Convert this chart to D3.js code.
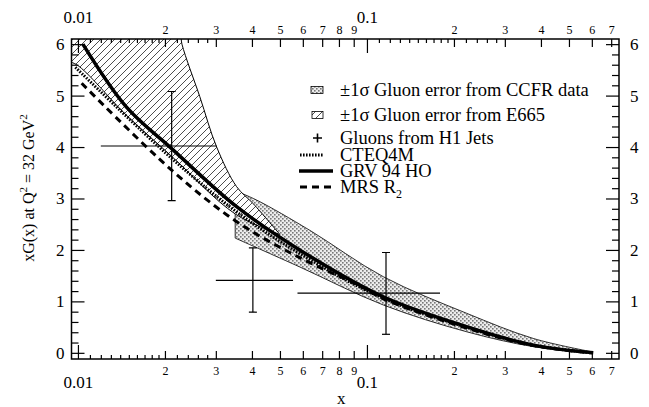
<!DOCTYPE html>
<html>
<head>
<meta charset="utf-8">
<script src="https://cdn.jsdelivr.net/npm/d3@7"></script>
<style>
  body { margin: 0; background: #fff; }
  svg { font-family: "Liberation Serif", "DejaVu Serif", serif; }
</style>
</head>
<body>
<div id="chart"></div>
<script>
// curves, [x, xG(x)]
var grv = [[0.0104, 6.0], [0.0147, 4.78], [0.0211, 3.97], [0.0354, 2.84], [0.0585, 2.0],
           [0.1139, 1.09], [0.221, 0.51], [0.376, 0.15], [0.607, 0.0]];
var cteq = [[0.0098, 5.55], [0.0211, 3.78], [0.0354, 2.74], [0.0585, 1.93], [0.1139, 1.06],
            [0.221, 0.5], [0.376, 0.15], [0.6, 0.0]];
var mrs = [[0.0103, 5.24], [0.0211, 3.55], [0.0354, 2.55], [0.0585, 1.85], [0.093, 1.32],
           [0.1139, 1.05], [0.221, 0.48], [0.376, 0.14], [0.6, 0.0]];

// CCFR +-1 sigma band
var ccfrUpper = [[0.035, 3.15], [0.0415, 2.97], [0.0635, 2.38], [0.1139, 1.48], [0.221, 0.77],
                 [0.376, 0.28], [0.6, 0.02]];
var ccfrLower = [[0.035, 2.23], [0.0585, 1.67], [0.1139, 0.93], [0.221, 0.41], [0.376, 0.12],
                 [0.6, 0.0]];

// E665 +-1 sigma band
var e665Upper = [[0.009, 6.4], [0.0222, 6.4], [0.0229, 6.0], [0.0264, 4.98], [0.0302, 4.0],
                 [0.0354, 3.23], [0.0404, 2.9], [0.05, 2.3]];
var e665Lower = [[0.009, 5.68], [0.0099, 5.6], [0.0147, 4.62], [0.0211, 3.82], [0.035, 2.7],
                 [0.05, 2.3]];

// H1 jet points
var h1 = [
  {x: 0.0211, y: 4.02, xlo: 0.0120, xhi: 0.0302, ylo: 2.96, yhi: 5.08},
  {x: 0.0403, y: 1.41, xlo: 0.0300, xhi: 0.0555, ylo: 0.79, yhi: 2.04},
  {x: 0.1164, y: 1.16, xlo: 0.0575, xhi: 0.179, ylo: 0.36, yhi: 1.95}
];

// ticks
var xMajor = [0.01, 0.1];
var xMajorLabels = ["0.01", "0.1"];
var xDigits = [0.02, 0.03, 0.04, 0.05, 0.06, 0.07, 0.08, 0.09, 0.2, 0.3, 0.4, 0.5, 0.6, 0.7];
var xSmall = [0.011, 0.012, 0.013, 0.014, 0.015, 0.016, 0.017, 0.018, 0.019, 0.022, 0.024, 0.026, 0.028,
              0.11, 0.12, 0.13, 0.14, 0.15, 0.16, 0.17, 0.18, 0.19, 0.22, 0.24, 0.26, 0.28];
var yMajor = [0, 1, 2, 3, 4, 5, 6];
var yMinor = [0.2, 0.4, 0.6, 0.8, 1.2, 1.4, 1.6, 1.8, 2.2, 2.4, 2.6, 2.8, 3.2, 3.4, 3.6, 3.8,
              4.2, 4.4, 4.6, 4.8, 5.2, 5.4, 5.6, 5.8];

var legendLabels = ["\u00b11\u03c3 Gluon error from CCFR data", "\u00b11\u03c3 Gluon error from E665",
                    "Gluons from H1 Jets", "CTEQ4M", "GRV 94 HO", "MRS R"];

var W = 649, H = 407;
var L = 71.5, R = 619, T = 39, B = 359;

var svg = d3.select("#chart").append("svg")
    .attr("width", W).attr("height", H);

var x = d3.scaleLog().domain([0.0095, 0.745]).range([L, R]);
var y = d3.scaleLinear().domain([-0.12, 6.1]).range([B, T]);

var defs = svg.append("defs");
defs.append("clipPath").attr("id", "clip")
  .append("rect").attr("x", L).attr("y", T).attr("width", R - L).attr("height", B - T);

var hatch = defs.append("pattern").attr("id", "hatch")
    .attr("patternUnits", "userSpaceOnUse").attr("width", 7).attr("height", 7);
hatch.append("rect").attr("width", 7).attr("height", 7).attr("fill", "#fff");
hatch.append("path").attr("d", "M0,7 L7,0 M-1,1 L1,-1 M6,8 L8,6")
    .attr("stroke", "#000").attr("stroke-width", 0.7);

var stip = defs.append("pattern").attr("id", "stip")
    .attr("patternUnits", "userSpaceOnUse").attr("width", 4).attr("height", 4);
stip.append("rect").attr("width", 4).attr("height", 4).attr("fill", "#ececec");
stip.append("rect").attr("x", 0).attr("y", 0).attr("width", 1.6).attr("height", 1.6).attr("fill", "#777");
stip.append("rect").attr("x", 2).attr("y", 2).attr("width", 1.6).attr("height", 1.6).attr("fill", "#777");

var line = d3.line()
    .x(function(d) { return x(d[0]); })
    .y(function(d) { return y(d[1]); })
    .curve(d3.curveCatmullRom.alpha(0.5));

function band(up, lo) {
  var a = line(up);
  var b = line(lo.slice().reverse());
  return a + "L" + b.slice(1) + "Z";
}

var plot = svg.append("g").attr("clip-path", "url(#clip)");

plot.append("path").attr("d", band(ccfrUpper, ccfrLower))
    .attr("fill", "url(#stip)").attr("stroke", "#000").attr("stroke-width", 0.8);

plot.append("path").attr("d", band(e665Upper, e665Lower))
    .attr("fill", "url(#hatch)").attr("stroke", "#000").attr("stroke-width", 1);

plot.append("path").attr("d", line(mrs))
    .attr("fill", "none").attr("stroke", "#000").attr("stroke-width", 3).attr("stroke-dasharray", "7,5");
plot.append("path").attr("d", line(cteq))
    .attr("fill", "none").attr("stroke", "#000").attr("stroke-width", 3).attr("stroke-dasharray", "1.6,1.4");
plot.append("path").attr("d", line(grv))
    .attr("fill", "none").attr("stroke", "#000").attr("stroke-width", 3.5);

// H1 crosses
var pts = plot.append("g").attr("stroke", "#000").attr("stroke-width", 1.2);
pts.selectAll(".hbar").data(h1).enter().append("line")
    .attr("x1", function(d) { return x(d.xlo); }).attr("x2", function(d) { return x(d.xhi); })
    .attr("y1", function(d) { return y(d.y); }).attr("y2", function(d) { return y(d.y); });
pts.selectAll(".vbar").data(h1).enter().append("line")
    .attr("x1", function(d) { return x(d.x); }).attr("x2", function(d) { return x(d.x); })
    .attr("y1", function(d) { return y(d.ylo); }).attr("y2", function(d) { return y(d.yhi); });
pts.selectAll(".capt").data(h1).enter().append("line")
    .attr("x1", function(d) { return x(d.x) - 4; }).attr("x2", function(d) { return x(d.x) + 4; })
    .attr("y1", function(d) { return y(d.yhi); }).attr("y2", function(d) { return y(d.yhi); });
pts.selectAll(".capb").data(h1).enter().append("line")
    .attr("x1", function(d) { return x(d.x) - 4; }).attr("x2", function(d) { return x(d.x) + 4; })
    .attr("y1", function(d) { return y(d.ylo); }).attr("y2", function(d) { return y(d.ylo); });

// axes, ticks inward
function styleAxis(g, fs) {
  g.select(".domain").remove();
  g.selectAll("line").attr("stroke", "#000").attr("stroke-width", 1.2);
  g.selectAll("text").attr("font-size", fs).attr("fill", "#000")
      .attr("font-family", "Liberation Serif, serif");
}

[["bottom", B], ["top", T]].forEach(function(s) {
  var mk = s[0] === "bottom" ? d3.axisBottom : d3.axisTop;
  var big = svg.append("g").attr("transform", "translate(0," + s[1] + ")")
      .call(mk(x).tickValues(xMajor).tickSize(-14).tickPadding(s[0] === "bottom" ? 17 : 16)
        .tickFormat(function(d, i) { return xMajorLabels[i]; }));
  styleAxis(big, 17);
  var dig = svg.append("g").attr("transform", "translate(0," + s[1] + ")")
      .call(mk(x).tickValues(xDigits).tickSize(-8).tickPadding(s[0] === "bottom" ? 7 : 5)
        .tickFormat(function(d) { return Math.round(d / Math.pow(10, Math.floor(Math.log10(d) + 1e-9))); }));
  styleAxis(dig, 12);
  var sm = svg.append("g").attr("transform", "translate(0," + s[1] + ")")
      .call(mk(x).tickValues(xSmall).tickSize(-4).tickFormat(""));
  styleAxis(sm, 12);
});

[["left", L], ["right", R]].forEach(function(s) {
  var mk = s[0] === "left" ? d3.axisLeft : d3.axisRight;
  var big = svg.append("g").attr("transform", "translate(" + s[1] + ",0)")
      .call(mk(y).tickValues(yMajor).tickSize(-13).tickPadding(s[0] === "left" ? 7 : 11)
        .tickFormat(d3.format("d")));
  styleAxis(big, 17);
  var sm = svg.append("g").attr("transform", "translate(" + s[1] + ",0)")
      .call(mk(y).tickValues(yMinor).tickSize(-7).tickFormat(""));
  styleAxis(sm, 12);
});

svg.append("rect").attr("x", L).attr("y", T).attr("width", R - L).attr("height", B - T)
    .attr("fill", "none").attr("stroke", "#000").attr("stroke-width", 1.5);

// axis titles
svg.append("text").attr("x", (L + R) / 2 - 4).attr("y", 404).attr("text-anchor", "middle")
    .attr("font-size", 17).text("x");

var yt = svg.append("text").attr("transform", "translate(34,188) rotate(-90)")
    .attr("text-anchor", "middle").attr("font-size", 16);
yt.append("tspan").text("xG(x) at Q");
yt.append("tspan").attr("font-size", 11).attr("dy", -7).text("2");
yt.append("tspan").attr("dy", 7).text(" = 32 GeV");
yt.append("tspan").attr("font-size", 11).attr("dy", -7).text("2");

// legend
var legY = [90, 115, 138, 155, 171, 187];
var lx = 340;
var leg = svg.append("g");
leg.selectAll("text").data(legendLabels).enter().append("text")
    .attr("x", lx).attr("y", function(d, i) { return legY[i]; }).attr("dy", "0.33em")
    .attr("font-size", 18.5).text(function(d) { return d; });
leg.select("text:last-child").append("tspan").attr("font-size", 12).attr("dy", 5).text("2");

leg.append("rect").attr("x", 311).attr("y", legY[0] - 3.5).attr("width", 12).attr("height", 7)
    .attr("fill", "url(#stip)").attr("stroke", "#000").attr("stroke-width", 0.8);
leg.append("rect").attr("x", 312).attr("y", legY[1] - 3.5).attr("width", 11).attr("height", 7)
    .attr("fill", "url(#hatch)").attr("stroke", "#000").attr("stroke-width", 0.8);
leg.append("path").attr("d", "M313," + legY[2] + "h9M317.5," + (legY[2] - 4.5) + "v9")
    .attr("stroke", "#000").attr("stroke-width", 1.6);
leg.append("line").attr("x1", 300).attr("x2", 323).attr("y1", legY[3]).attr("y2", legY[3])
    .attr("stroke", "#000").attr("stroke-width", 3).attr("stroke-dasharray", "1.6,1.4");
leg.append("line").attr("x1", 299).attr("x2", 333).attr("y1", legY[4]).attr("y2", legY[4])
    .attr("stroke", "#000").attr("stroke-width", 3.5);
leg.append("line").attr("x1", 300).attr("x2", 331).attr("y1", legY[5]).attr("y2", legY[5])
    .attr("stroke", "#000").attr("stroke-width", 3).attr("stroke-dasharray", "7,5");
</script>
</body>
</html>
